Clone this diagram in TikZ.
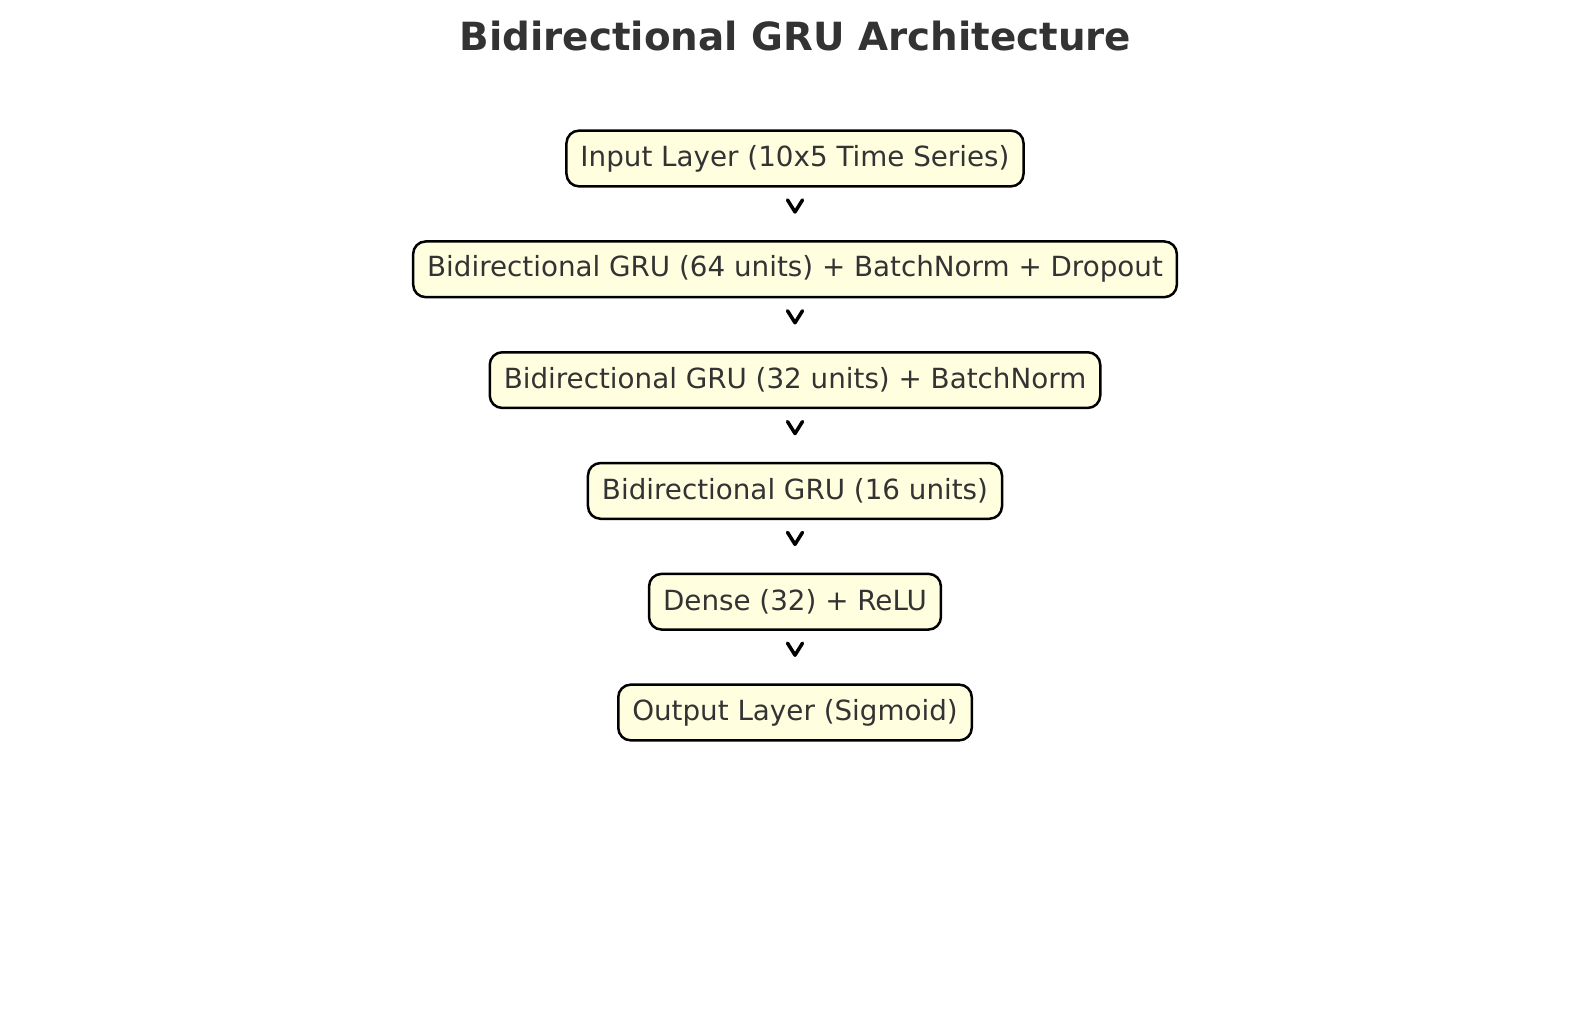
\documentclass[tikz,border=0pt]{standalone}
\usepackage{fontspec}
\setmainfont{DejaVu Sans}
\usepackage{xcolor}
\usetikzlibrary{positioning,arrows.meta}
\definecolor{boxfill}{HTML}{FFFFE0}
\definecolor{labeltext}{HTML}{333333}

\begin{document}
\begin{tikzpicture}[
    layerbox/.style={draw=black, line width=0.05cm, fill=boxfill, rounded corners=0.25cm,
        minimum height=1.114cm, inner xsep=0.28cm, text=labeltext, font=\fontsize{15.8}{19}\selectfont},
    flowarrow/.style={-{Straight Barb[length=0.24cm, width=0.3cm, line cap=round, line join=round]},
        line width=0.07cm, shorten <=0.46cm, shorten >=0.53cm}
]
    % Fix the canvas to the reference size
    \useasboundingbox (0,0) rectangle (31.78,-20.2);
    % Draw the title
    \node[text=labeltext, font=\fontsize{22.1}{27}\bfseries] (title) at (15.91,-0.72) {Bidirectional GRU Architecture};
    % Draw the layer boxes
    \node[layerbox] (input) at (15.9,-3.17) {Input Layer (10x5 Time Series)};
    \node[layerbox, below=1.052cm of input] (gru64) {Bidirectional GRU (64 units) + BatchNorm + Dropout};
    \node[layerbox, below=1.052cm of gru64] (gru32) {Bidirectional GRU (32 units) + BatchNorm};
    \node[layerbox, below=1.052cm of gru32] (gru16) {Bidirectional GRU (16 units)};
    \node[layerbox, below=1.052cm of gru16] (dense) {Dense (32) + ReLU};
    \node[layerbox, below=1.052cm of dense] (output) {Output Layer (Sigmoid)};
    % Draw the arrows between layers
    \draw[flowarrow] (input) -- (gru64);
    \draw[flowarrow] (gru64) -- (gru32);
    \draw[flowarrow] (gru32) -- (gru16);
    \draw[flowarrow] (gru16) -- (dense);
    \draw[flowarrow] (dense) -- (output);
\end{tikzpicture}
\end{document}
